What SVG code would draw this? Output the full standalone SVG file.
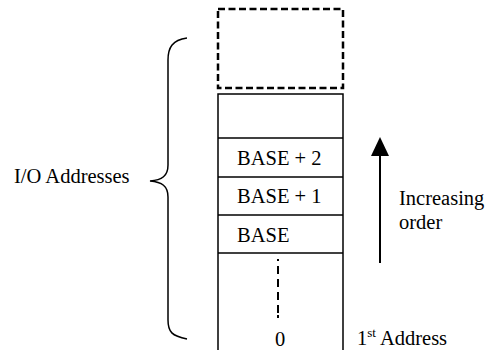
<svg xmlns="http://www.w3.org/2000/svg" width="485" height="350" viewBox="0 0 485 350">
<defs>
<style>
text{font-family:"Liberation Serif","Times New Roman",serif;font-size:20.5px;fill:#000}
.ln{stroke:#000;stroke-width:1.5;fill:none}
.dash{stroke:#000;stroke-width:2.5;fill:none;stroke-dasharray:7 3.5}
</style>
</defs>
<rect width="485" height="350" fill="#fff"/>
<g id="dashed-top">
<rect class="dash" x="218" y="9" width="125" height="79"/>
</g>
<g id="memory-column">
<path class="ln" d="M218,351 V94 H343 V351"/>
<line class="ln" x1="218" y1="138" x2="343" y2="138"/>
<line class="ln" x1="218" y1="177" x2="343" y2="177"/>
<line class="ln" x1="218" y1="215" x2="343" y2="215"/>
<line class="ln" x1="218" y1="253" x2="343" y2="253"/>
</g>
<g id="row-base2"><text x="237" y="165">BASE + 2</text></g>
<g id="row-base1"><text x="237" y="203">BASE + 1</text></g>
<g id="row-base"><text x="237" y="242">BASE</text></g>
<g id="row-zero"><text x="275" y="346">0</text></g>
<g id="connectors">
<line x1="278" y1="259" x2="278" y2="318" stroke="#000" stroke-width="2" stroke-dasharray="2 5 8 5 8 5 8 5 8"/>
<line x1="380" y1="155" x2="380" y2="263" stroke="#000" stroke-width="2"/>
<polygon points="380,137 371,156 389,156" fill="#000"/>
<path class="ln" d="M187,38 C172,40 168,48 168,60 V165 C168,176 162,180 150,181 C162,182 168,186 168,197 V320 C168,332 172,336 187,339"/>
</g>
<g id="label-io"><text x="14" y="183">I/O Addresses</text></g>
<g id="label-order"><text x="399" y="205">Increasing</text><text x="399" y="229">order</text></g>
<g id="label-first"><text x="357" y="345">1<tspan font-size="13" dy="-8">st</tspan><tspan dy="8"> Address</tspan></text></g>
</svg>
